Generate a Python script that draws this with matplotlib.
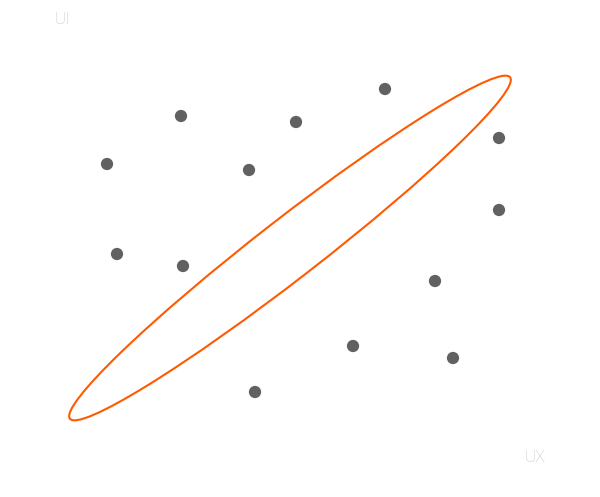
import matplotlib
matplotlib.use("Agg")
import matplotlib.pyplot as plt
from matplotlib.patches import Ellipse

# points (canvas units, y grows downward)
xs = [181, 296, 385, 499, 107, 249, 499, 117, 183, 435, 353, 453, 255]
ys = [116, 122, 89, 138, 164, 170, 210, 254, 266, 281, 346, 358, 392]

# highlighted region
ell_center = (290, 248)
ell_width = 557
ell_height = 60
ell_angle = -37.8

fig = plt.figure(figsize=(6, 4.97), dpi=100)
ax = fig.add_axes([0, 0, 1, 1])
ax.set_xlim(0, 600)
ax.set_ylim(497, 0)
ax.axis('off')

ax.scatter(xs, ys, s=78, color='#616161', edgecolors='none', zorder=3)
ax.add_patch(Ellipse(ell_center, ell_width, ell_height, angle=ell_angle,
                     fill=False, edgecolor='#ff5a00', linewidth=1.5))

ax.text(62, 19, 'UI', color='#c4c4c4', fontsize=12, fontfamily='Roboto',
        fontweight='light', ha='center', va='center')
ax.text(535, 458, 'UX', color='#c4c4c4', fontsize=12, fontfamily='Roboto',
        fontweight='light', ha='center', va='center')

fig.savefig('out.png', dpi=100)
